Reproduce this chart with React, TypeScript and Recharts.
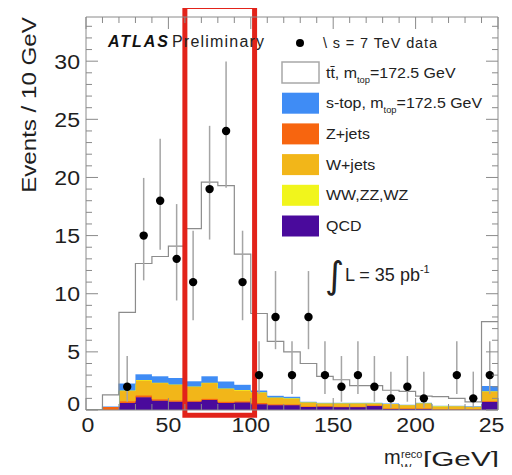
import React from 'react';
import {
  ComposedChart,
  Area,
  Scatter,
  ErrorBar,
  XAxis,
  YAxis,
  ReferenceArea,
  Legend,
} from 'recharts';

// lower edge of each 10 GeV bin
const binLow = [0, 10, 20, 30, 40, 50, 60, 70, 80, 90, 100, 110, 120, 130, 140, 150, 160, 170, 180, 190, 200, 210, 220, 230, 240];

// stacked MC contributions (events per bin)
const qcd = [0, 0, 0.6, 1.1, 0.8, 0.7, 0.7, 0.85, 0.6, 0.65, 0.5, 0.4, 0.4, 0.25, 0.3, 0.25, 0.25, 0.35, 0.1, 0.1, 0.1, 0.05, 0.05, 0.05, 0.7];
const zJets = [0, 0.25, 0.15, 0.15, 0.12, 0.12, 0.1, 0.12, 0.12, 0.1, 0.1, 0.1, 0.08, 0.05, 0.03, 0.03, 0.03, 0.03, 0.02, 0.02, 0.02, 0.02, 0.02, 0.02, 0.05];
const wJets = [0, 0.05, 0.9, 1.3, 1.4, 1.35, 1.2, 1.35, 1.1, 0.95, 0.9, 0.55, 0.5, 0.35, 0.25, 0.3, 0.3, 0.2, 0.4, 0.3, 0.45, 0.2, 0.25, 0.2, 0.85];
const diboson = [0, 0, 0.02, 0.03, 0.03, 0.03, 0.02, 0.03, 0.03, 0.02, 0.02, 0.02, 0.02, 0.02, 0.02, 0.02, 0.02, 0.02, 0.02, 0.02, 0.03, 0.1, 0.05, 0.05, 0.02];
const singleTop = [0, 0, 0.6, 0.5, 0.55, 0.55, 0.45, 0.55, 0.6, 0.45, 0.15, 0.15, 0.15, 0.05, 0.02, 0.02, 0.02, 0.02, 0.02, 0.02, 0.02, 0, 0, 0, 0.45];
const ttbar = [0, 1.0, 6.13, 9.52, 10.3, 11.35, 13.13, 16.7, 16.85, 11.23, 6.63, 4.68, 3.85, 3.28, 2.28, 1.98, 1.48, 1.48, 1.14, 1.14, 0.58, 0.78, 0.63, 0.38, 5.53];

// data points: bin centre, events, asymmetric errors
const dataX = [25, 35, 45, 55, 65, 75, 85, 95, 105, 115, 125, 135, 145, 155, 165, 175, 185, 195, 205, 225, 235, 245];
const dataN = [2, 15, 18, 13, 11, 19, 24, 11, 3, 8, 3, 8, 3, 2, 3, 2, 1, 2, 1, 3, 1, 3];
const errDown = [1.29, 3.85, 4.22, 3.58, 3.28, 4.34, 4.88, 3.28, 1.63, 2.77, 1.63, 2.77, 1.63, 1.29, 1.63, 1.29, 0.83, 1.29, 0.83, 1.63, 0.83, 1.63];
const errUp = [2.64, 4.96, 5.32, 4.71, 4.42, 5.44, 5.97, 4.42, 2.92, 3.95, 2.92, 3.95, 2.92, 2.64, 2.92, 2.64, 2.3, 2.64, 2.3, 2.92, 2.3, 2.92];

const xTicks = [0, 10, 20, 30, 40, 50, 60, 70, 80, 90, 100, 110, 120, 130, 140, 150, 160, 170, 180, 190, 200, 210, 220, 230, 240, 250];
const yTicks = [0, 1, 2, 3, 4, 5, 6, 7, 8, 9, 10, 11, 12, 13, 14, 15, 16, 17, 18, 19, 20, 21, 22, 23, 24, 25, 26, 27, 28, 29, 30, 31, 32, 33];

const legendItems = [
  { name: 'tt\u0304, m', sub: 'top', rest: '=172.5 GeV', color: '#ffffff', border: '#a8a8a8' },
  { name: 's-top, m', sub: 'top', rest: '=172.5 GeV', color: '#3f8cf5' },
  { name: 'Z+jets', color: '#f7650f' },
  { name: 'W+jets', color: '#f2b619' },
  { name: 'WW,ZZ,WZ', color: '#f1f51c' },
  { name: 'QCD', color: '#4a0a9c' },
];

const FONT = '"Liberation Sans", Arial, Helvetica, sans-serif';
const FRAME = '#8a8a8a';
const INK = '#1e1e1e';

const histRows = binLow.map((x, i) => ({
  x,
  qcd: qcd[i],
  zJets: zJets[i],
  wJets: wJets[i],
  diboson: diboson[i],
  singleTop: singleTop[i],
  ttbar: ttbar[i],
}));
// closing edge so the last step reaches 250
histRows.push({ ...histRows[histRows.length - 1], x: 250 });

const points = dataX.map((x, i) => ({ x, n: dataN[i], err: [errDown[i], errUp[i]] }));

const LeftTick = (p: any) => {
  const v = p.payload.value;
  const major = v % 5 === 0;
  return (
    <g>
      <line x1={p.x} x2={p.x + (major ? 12 : 6)} y1={p.y} y2={p.y} stroke={FRAME} />
      {major && (
        <text
          transform={`translate(${p.x - 6} ${v === 0 ? p.y + 0.5 : p.y + 7.5}) scale(1.1 1)`}
          textAnchor="end"
          fontSize={21}
          fontFamily={FONT}
          fill={INK}
        >
          {v}
        </text>
      )}
    </g>
  );
};

const RightTick = (p: any) => {
  const major = p.payload.value % 5 === 0;
  return <line x1={p.x} x2={p.x - (major ? 12 : 6)} y1={p.y} y2={p.y} stroke={FRAME} />;
};

const BottomTick = (p: any) => {
  const v = p.payload.value;
  const major = v % 50 === 0;
  return (
    <g>
      <line x1={p.x} x2={p.x} y1={p.y} y2={p.y - (major ? 12 : 6)} stroke={FRAME} />
      {major && (
        <text
          transform={`translate(${p.x + (v === 0 ? 2 : 0)} ${p.y + 22}) scale(1.1 1)`}
          textAnchor="middle"
          fontSize={21}
          fontFamily={FONT}
          fill={INK}
        >
          {v}
        </text>
      )}
    </g>
  );
};

const TopTick = (p: any) => {
  const major = p.payload.value % 50 === 0;
  return <line x1={p.x} x2={p.x} y1={p.y} y2={p.y + (major ? 12 : 6)} stroke={FRAME} />;
};

const Overlay = () => (
  <svg width={512} height={475} style={{ display: 'block' }} fontFamily={FONT}>
    <text x={108} y={47} fontSize={16} fontWeight="bold" fontStyle="italic" fill="#111" textLength={60}>
      ATLAS
    </text>
    <text x={172} y={47} fontSize={16} fill="#222" textLength={92}>
      Preliminary
    </text>

    <circle cx={300} cy={43} r={4} fill="#000" />
    <text x={323} y={48} fontSize={14.5} fill="#222" textLength={114}>
      \ s = 7 TeV data
    </text>

    {legendItems.map((it, i) => {
      const top = 62 + i * 30.7;
      return (
        <g key={it.name}>
          <rect
            x={282}
            y={top}
            width={37}
            height={21}
            fill={it.color}
            stroke={it.border ?? 'none'}
            strokeWidth={1.5}
          />
          <text transform={`translate(326 ${top + 15.5}) scale(1.1 1)`} fontSize={14.5} fill="#222">
            {it.name}
            {it.sub && (
              <tspan fontSize={8.5} dy={5}>
                {it.sub}
              </tspan>
            )}
            {it.rest && (
              <tspan dy={-5} fontSize={14.5}>
                {it.rest}
              </tspan>
            )}
          </text>
        </g>
      );
    })}

    <text x={325} y={288} fontSize={37} fill="#222" fontFamily='"DejaVu Sans", sans-serif'>
      ∫
    </text>
    <text x={345} y={281} fontSize={18} fill="#222">
      L = 35 pb<tspan fontSize={11} dy={-8}>-1</tspan>
    </text>

    <text
      transform="translate(35.5 105) rotate(-90) scale(1.15 1)"
      textAnchor="middle"
      fontSize={21}
      fill={INK}
    >
      Events / 10 GeV
    </text>

    <text x={384} y={464} fontSize={20} fill={INK}>
      m
    </text>
    <text x={401} y={458} fontSize={11} fill={INK}>
      reco
    </text>
    <text x={401} y={472} fontSize={11} fill={INK}>
      W
    </text>
    <text x={423} y={466} fontSize={21} fill={INK} textLength={76} lengthAdjust="spacingAndGlyphs">
      [GeV]
    </text>
  </svg>
);

export default function App() {
  return (
    <div style={{ margin: -8, width: 512, height: 475, background: '#fff' }}>
      <ComposedChart
        width={512}
        height={475}
        data={histRows}
        margin={{ top: 16, right: 13, bottom: 0, left: 0 }}
      >
        <XAxis
          dataKey="x"
          type="number"
          domain={[0, 250]}
          ticks={xTicks}
          interval={0}
          allowDataOverflow
          height={65}
          tickSize={0}
          tickMargin={0}
          tickLine={false}
          axisLine={{ stroke: FRAME }}
          tick={(p: any) => <BottomTick {...p} />}
        />
        <XAxis
          xAxisId="top"
          orientation="top"
          dataKey="x"
          type="number"
          domain={[0, 250]}
          ticks={xTicks}
          interval={0}
          allowDataOverflow
          height={1}
          tickSize={0}
          tickMargin={0}
          tickLine={false}
          axisLine={{ stroke: FRAME }}
          tick={(p: any) => <TopTick {...p} />}
        />
        <YAxis
          type="number"
          domain={[0, 33.8]}
          ticks={yTicks}
          interval={0}
          allowDataOverflow
          width={86}
          tickSize={0}
          tickMargin={0}
          tickLine={false}
          axisLine={{ stroke: FRAME }}
          tick={(p: any) => <LeftTick {...p} />}
        />
        <YAxis
          yAxisId="right"
          orientation="right"
          type="number"
          domain={[0, 33.8]}
          ticks={yTicks}
          interval={0}
          allowDataOverflow
          width={1}
          tickSize={0}
          tickMargin={0}
          tickLine={false}
          axisLine={{ stroke: FRAME }}
          tick={(p: any) => <RightTick {...p} />}
        />

        <Area type="stepAfter" dataKey="qcd" stackId="mc" fill="#4a0a9c" stroke="#4a0a9c" fillOpacity={1} isAnimationActive={false} />
        <Area type="stepAfter" dataKey="zJets" stackId="mc" fill="#f7650f" stroke="#f7650f" fillOpacity={1} isAnimationActive={false} />
        <Area type="stepAfter" dataKey="wJets" stackId="mc" fill="#f2b619" stroke="#f2b619" fillOpacity={1} isAnimationActive={false} />
        <Area type="stepAfter" dataKey="diboson" stackId="mc" fill="#f1f51c" stroke="#f1f51c" fillOpacity={1} isAnimationActive={false} />
        <Area type="stepAfter" dataKey="singleTop" stackId="mc" fill="#3f8cf5" stroke="#3f8cf5" fillOpacity={1} isAnimationActive={false} />
        <Area type="stepAfter" dataKey="ttbar" stackId="mc" fill="#ffffff" stroke="#8c8c8c" strokeWidth={1.2} fillOpacity={1} isAnimationActive={false} />

        <Scatter
          data={points}
          dataKey="n"
          isAnimationActive={false}
          shape={(p: any) => <circle cx={p.cx} cy={p.cy} r={4.2} fill="#000" />}
        >
          <ErrorBar dataKey="err" direction="y" width={0} stroke="#a5a5a5" strokeWidth={1.5} />
        </Scatter>

        <ReferenceArea
          x1={60}
          x2={102.3}
          y1={-0.45}
          y2={34.7}
          ifOverflow="visible"
          fill="none"
          fillOpacity={0}
          stroke="#e2231a"
          strokeWidth={5}
          strokeOpacity={1}
        />

        <Legend
          layout="vertical"
          align="center"
          verticalAlign="middle"
          wrapperStyle={{ left: 0, top: 0, width: 512, height: 475, pointerEvents: 'none' }}
          content={() => <Overlay />}
        />
      </ComposedChart>
    </div>
  );
}
